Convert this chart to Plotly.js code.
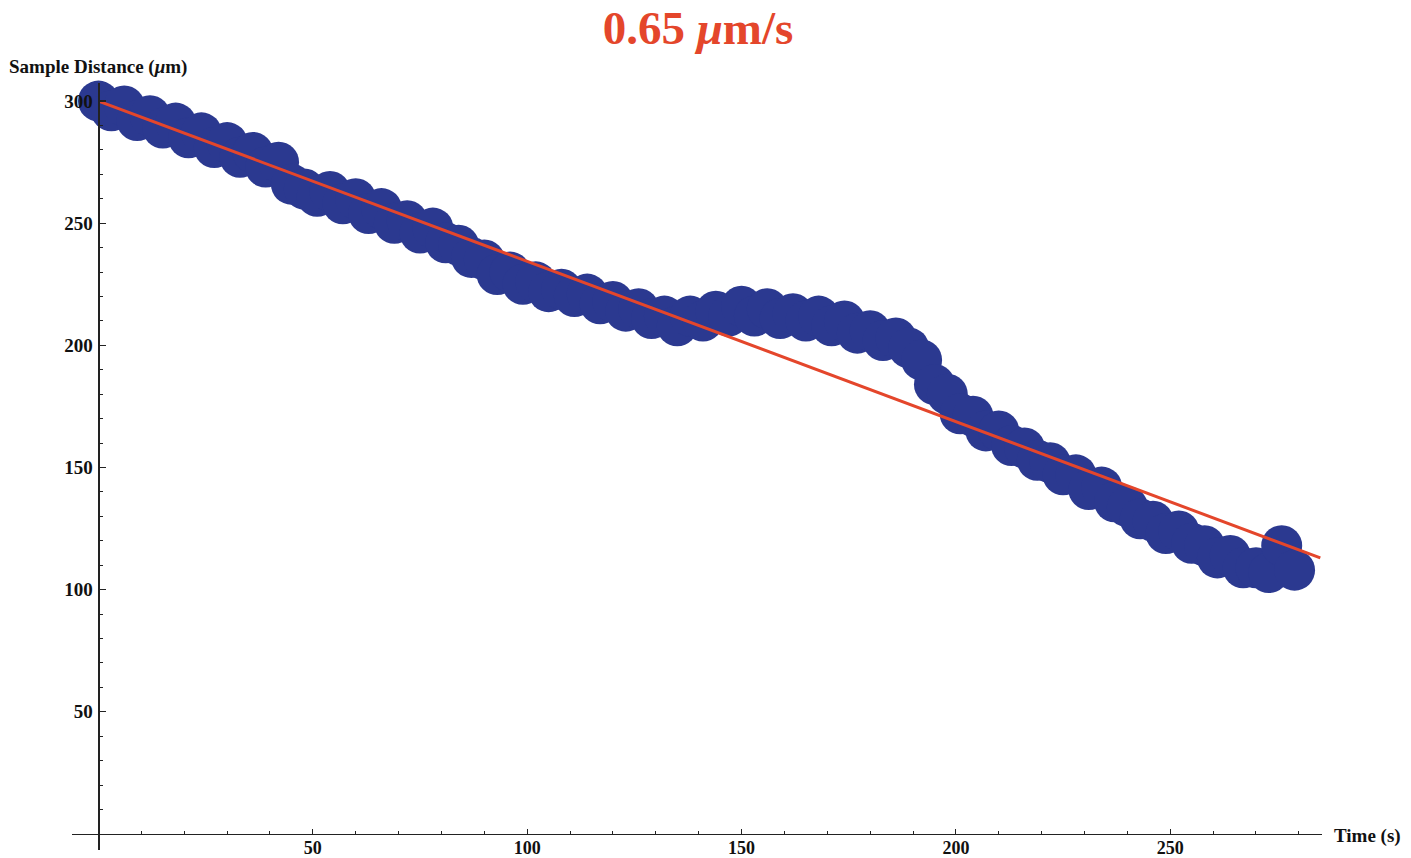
<!DOCTYPE html>
<html>
<head>
<meta charset="utf-8">
<script src="https://cdn.plot.ly/plotly-3.0.1.min.js"></script>
<style>html,body{margin:0;padding:0;background:#fff;}#chart{width:1411px;height:858px;}</style>
</head>
<body>
<div id="chart"></div>
<script>
// ---- data ----
var timeS = [0,3,6,9,12,15,18,21,24,27,30,33,36,39,42,45,48,51,54,57,60,63,66,69,72,75,78,81,84,87,90,93,96,99,102,105,108,111,114,117,120,123,126,129,132,135,138,141,144,147,150,153,156,159,162,165,168,171,174,177,180,183,186,189,192,195,198,201,204,207,210,213,216,219,222,225,228,231,234,237,240,243,246,249,252,255,258,261,264,267,270,273,276,279];
var distanceUm = [300,296,298,292,294,289,291,285,287,281,283,277,279,273,275,266,264,261,263,258,260,254,256,250,251,246,248,242,241,236,235,229,230,225,226,222,223,220,221,217,218,214,215,211,212,208,212,210,214,212,216,212,215,211,213,210,212,208,210,205,206,202,203,199,194,184,180,172,171,165,165,159,158,153,152,147,147,141,142,136,134,129,128,123,124,119,118,113,114,109,109,107,118,108];
var fitT = [0, 285];
var fitY = [300, 113];
var xTickVals = [50,100,150,200,250];
var xMinorVals = [10,20,30,40,60,70,80,90,110,120,130,140,160,170,180,190,210,220,230,240,260,270,280];
var yTickVals = [50,100,150,200,250,300];
var yMinorVals = [10,20,30,40,60,70,80,90,110,120,130,140,160,170,180,190,210,220,230,240,260,270,280,290];
var titleText = '0.65 <i>μ</i>m/s';
var xTitle = 'Time (s)';
var yTitle = 'Sample Distance (<i>μ</i>m)';

// ---- layout geometry ----
var W = 1411, H = 858;
var xRange = [-6.18, 285.4];
var yRange = [-6.55, 307.4];
var xDomain = [72 / W, 1322 / W];
var yDomain = [1 - 850 / H, 1 - 83 / H];
var xAxisPos = yDomain[0] + (yDomain[1] - yDomain[0]) * (0 - yRange[0]) / (yRange[1] - yRange[0]);
var yAxisPos = xDomain[0] + (xDomain[1] - xDomain[0]) * (0 - xRange[0]) / (xRange[1] - xRange[0]);

var serif = 'Liberation Serif, Times New Roman, serif';
var red = '#e4462b';
var blue = '#2b3990';
var axisColor = '#222';

var traces = [
  {
    type: 'scatter', mode: 'markers', x: timeS, y: distanceUm,
    marker: {size: 41, color: blue, line: {width: 0}},
    cliponaxis: false, showlegend: false, hoverinfo: 'x+y'
  },
  {
    type: 'scatter', mode: 'lines', x: fitT, y: fitY,
    line: {color: red, width: 3},
    cliponaxis: false, showlegend: false
  }
];

var tickFont = {family: serif, size: 19, color: '#111', weight: 'bold'};

var layout = {
  width: W, height: H, autosize: false,
  margin: {l: 0, r: 0, t: 0, b: 0, pad: 0},
  paper_bgcolor: '#fff', plot_bgcolor: '#fff',
  showlegend: false,
  title: {
    text: titleText,
    font: {family: serif, size: 47, color: red, weight: 'bold'},
    xref: 'container', yref: 'container',
    x: 698 / W, y: 1 - 28 / H, xanchor: 'center', yanchor: 'middle'
  },
  xaxis: {
    domain: xDomain, range: xRange, anchor: 'free', position: xAxisPos,
    showgrid: false, zeroline: false,
    showline: true, linecolor: axisColor, linewidth: 1.3,
    tickmode: 'array', tickvals: xTickVals,
    ticks: 'inside', ticklen: 5, tickwidth: 1.2, tickcolor: axisColor,
    ticklabelstandoff: -3,
    minor: {tickmode: 'array', tickvals: xMinorVals, ticks: 'inside', ticklen: 3, tickwidth: 1, tickcolor: axisColor, showgrid: false},
    tickfont: {family: serif, size: 18, color: '#111', weight: 'bold'}, automargin: false, fixedrange: true
  },
  yaxis: {
    domain: yDomain, range: yRange, anchor: 'free', position: yAxisPos,
    showgrid: false, zeroline: false,
    showline: true, linecolor: axisColor, linewidth: 1.3,
    tickmode: 'array', tickvals: yTickVals,
    ticks: 'inside', ticklen: 6, tickwidth: 1.2, tickcolor: axisColor,
    ticklabelstandoff: 2,
    minor: {tickmode: 'array', tickvals: yMinorVals, ticks: 'inside', ticklen: 3, tickwidth: 1, tickcolor: axisColor, showgrid: false},
    tickfont: tickFont, automargin: false, fixedrange: true
  },
  annotations: [
    {
      text: yTitle, xref: 'paper', yref: 'paper',
      x: 7 / W, y: 1 - 67 / H, xanchor: 'left', yanchor: 'middle',
      showarrow: false, font: {family: serif, size: 19, color: '#111', weight: 'bold'}
    },
    {
      text: xTitle, xref: 'paper', yref: 'paper',
      x: 1332 / W, y: 1 - 836 / H, xanchor: 'left', yanchor: 'middle',
      showarrow: false, font: {family: serif, size: 19, color: '#111', weight: 'bold'}
    }
  ]
};

Plotly.newPlot('chart', traces, layout, {displayModeBar: false, staticPlot: true});
</script>
</body>
</html>
